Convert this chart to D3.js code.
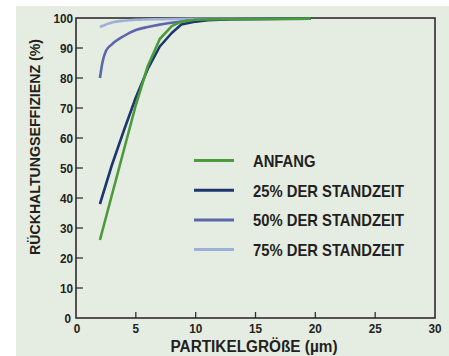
<!DOCTYPE html>
<html>
<head>
<meta charset="utf-8">
<script src="https://cdn.jsdelivr.net/npm/d3@7"></script>
<style>
  body { margin: 0; background: #fff; }
  text { font-family: "Liberation Sans", Arial, sans-serif; font-weight: bold; fill: #231f20; }
</style>
</head>
<body>
<div id="chart"></div>
<script>
// Series data
const seriesNames = ["ANFANG", "25% DER STANDZEIT", "50% DER STANDZEIT", "75% DER STANDZEIT"];
const seriesColors = ["#4b9b3c", "#1d366c", "#5a67ab", "#9db1d8"];
const anfang = [[2, 26], [3, 41], [4, 56], [5, 71], [6, 84], [7, 93], [8, 97.3], [8.8, 98.8], [10, 99.4], [12, 99.6], [19.6, 99.8]];
const standzeit25 = [[2, 38], [3, 51], [4, 62.5], [5, 73.5], [6, 83], [7, 90.5], [8, 95], [8.8, 97.8], [10, 98.8], [11, 99.3], [13, 99.6], [19.6, 99.8]];
const standzeit50 = [[2, 80], [2.2, 85], [2.5, 89], [3, 91.2], [4, 94], [5, 96], [6, 97], [7, 97.8], [8, 98.4], [9, 98.9], [10, 99.3], [12, 99.6], [19.6, 99.8]];
const standzeit75 = [[2, 97], [3, 98.5], [4, 99.1], [5, 99.4], [7, 99.6], [10, 99.7], [19.6, 99.8]];
const xTicks = [0, 5, 10, 15, 20, 25, 30];
const yTicks = [0, 10, 20, 30, 40, 50, 60, 70, 80, 90, 100];

const W = 449, H = 356;
const svg = d3.select("#chart").append("svg")
    .attr("width", W)
    .attr("height", H);

// squeeze text horizontally to mimic the condensed face of the original
function condense(sel, factor) {
    sel.each(function() {
        const w = this.getComputedTextLength();
        this.setAttribute("textLength", w * factor);
        this.setAttribute("lengthAdjust", "spacingAndGlyphs");
    });
}
function fitTo(sel, len) {
    sel.attr("textLength", len).attr("lengthAdjust", "spacingAndGlyphs");
}

// panel background
svg.append("rect")
    .attr("x", 16).attr("y", 6)
    .attr("width", W - 16).attr("height", H - 6)
    .attr("fill", "#e5ece1");

const x = d3.scaleLinear().domain([0, 30]).range([76, 435]);
const y = d3.scaleLinear().domain([0, 100]).range([318, 18]);

// ticks (pointing inward)
svg.append("g")
    .selectAll("line")
    .data(yTicks.filter(d => d > 0 && d < 100))
    .join("line")
    .attr("x1", x(0)).attr("x2", x(0) + 7)
    .attr("y1", d => y(d)).attr("y2", d => y(d))
    .attr("stroke", "#333").attr("stroke-width", 1.3);

svg.append("g")
    .selectAll("line")
    .data(xTicks.filter(d => d > 0 && d < 30))
    .join("line")
    .attr("x1", d => x(d)).attr("x2", d => x(d))
    .attr("y1", y(0)).attr("y2", y(0) - 6)
    .attr("stroke", "#333").attr("stroke-width", 1.3);

// frame
svg.append("rect")
    .attr("x", x(0)).attr("y", y(100))
    .attr("width", x(30) - x(0)).attr("height", y(0) - y(100))
    .attr("fill", "none")
    .attr("stroke", "#231f20")
    .attr("stroke-width", 1.5);

// tick labels
svg.append("g")
    .selectAll("text")
    .data(yTicks)
    .join("text")
    .attr("x", d => d === 0 ? 71 : 73)
    .attr("y", d => y(d))
    .attr("dy", "0.36em")
    .attr("text-anchor", "end")
    .style("font-size", "13.5px")
    .text(d => d)
    .call(condense, 0.87);

svg.append("g")
    .selectAll("text")
    .data(xTicks)
    .join("text")
    .attr("x", d => x(d) + (d === 0 ? 1 : 0))
    .attr("y", 333)
    .attr("text-anchor", "middle")
    .style("font-size", "13.5px")
    .text(d => d)
    .call(condense, 0.87);

// axis titles
svg.append("text")
    .attr("x", 254)
    .attr("y", 352)
    .attr("text-anchor", "middle")
    .style("font-size", "16px")
    .text("PARTIKELGRÖßE (µm)")
    .call(fitTo, 167);

svg.append("text")
    .attr("transform", "translate(40,147) rotate(-90)")
    .attr("text-anchor", "middle")
    .style("font-size", "15.5px")
    .text("RÜCKHALTUNGSEFFIZIENZ (%)")
    .call(fitTo, 216);

// curves
const line = d3.line()
    .x(d => x(d[0]))
    .y(d => y(d[1]));

const allSeries = [anfang, standzeit25, standzeit50, standzeit75];
const curves = [d3.curveLinear, d3.curveLinear, d3.curveMonotoneX, d3.curveMonotoneX];
svg.append("g")
    .selectAll("path")
    .data([3, 2, 1, 0])
    .join("path")
    .attr("d", i => line.curve(curves[i])(allSeries[i]))
    .attr("fill", "none")
    .attr("stroke", i => seriesColors[i])
    .attr("stroke-width", 2.6)
    .attr("stroke-linejoin", "round");

// legend
const legend = svg.append("g");
const legY = i => 160.5 + i * 29.7;
legend.selectAll("line")
    .data(seriesNames)
    .join("line")
    .attr("x1", 194).attr("x2", 234)
    .attr("y1", (d, i) => legY(i)).attr("y2", (d, i) => legY(i))
    .attr("stroke", (d, i) => seriesColors[i])
    .attr("stroke-width", 3);

legend.selectAll("text")
    .data(seriesNames)
    .join("text")
    .attr("x", 253)
    .attr("y", (d, i) => legY(i) + 6.5)
    .style("font-size", "17px")
    .text(d => d)
    .call(condense, 0.87);
</script>
</body>
</html>
